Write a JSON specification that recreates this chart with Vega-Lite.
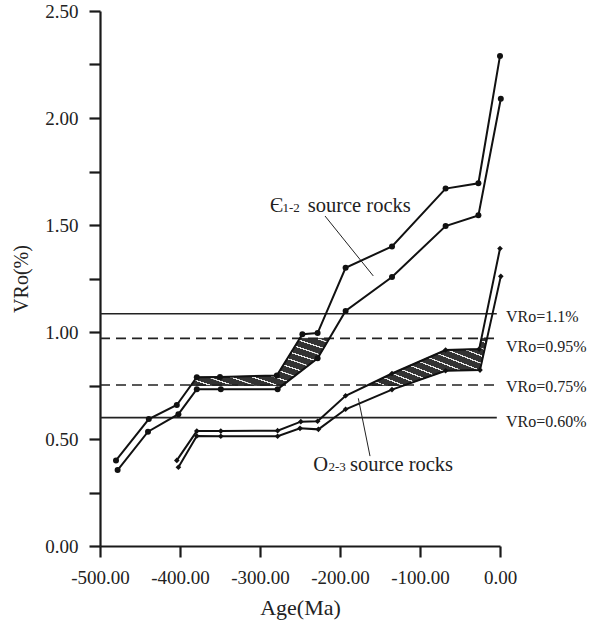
{
  "$schema": "https://vega.github.io/schema/vega-lite/v6.json",
  "width": 400,
  "height": 535,
  "autosize": {"type": "none"},
  "padding": {"left": 100, "top": 11, "right": 96, "bottom": 86},
  "background": "white",
  "config": {
    "view": {"stroke": null},
    "font": "Liberation Serif",
    "axis": {"grid": false, "domainColor": "#1a1a1a", "domainWidth": 2.2, "tickColor": "#1a1a1a", "tickWidth": 2.2, "tickSize": 11, "labelFont": "Liberation Serif", "labelFontSize": 19, "labelColor": "#222", "titleFont": "Liberation Serif", "titleFontWeight": "normal", "titleColor": "#222", "labelOverlap": false, "labelFlush": false}
  },
  "datasets": {
    "curves": [
      {"series": "C_up", "rock": "C", "age": -480, "vro": 0.40},
      {"series": "C_up", "rock": "C", "age": -439, "vro": 0.593},
      {"series": "C_up", "rock": "C", "age": -404, "vro": 0.659},
      {"series": "C_up", "rock": "C", "age": -379, "vro": 0.789},
      {"series": "C_up", "rock": "C", "age": -350, "vro": 0.790},
      {"series": "C_up", "rock": "C", "age": -279, "vro": 0.797},
      {"series": "C_up", "rock": "C", "age": -247, "vro": 0.99},
      {"series": "C_up", "rock": "C", "age": -228, "vro": 0.995},
      {"series": "C_up", "rock": "C", "age": -193, "vro": 1.30},
      {"series": "C_up", "rock": "C", "age": -135, "vro": 1.40},
      {"series": "C_up", "rock": "C", "age": -68, "vro": 1.67},
      {"series": "C_up", "rock": "C", "age": -27, "vro": 1.695},
      {"series": "C_up", "rock": "C", "age": 0, "vro": 2.29},
      {"series": "C_lo", "rock": "C", "age": -478, "vro": 0.355},
      {"series": "C_lo", "rock": "C", "age": -440, "vro": 0.534},
      {"series": "C_lo", "rock": "C", "age": -402, "vro": 0.616},
      {"series": "C_lo", "rock": "C", "age": -379, "vro": 0.733},
      {"series": "C_lo", "rock": "C", "age": -349, "vro": 0.733},
      {"series": "C_lo", "rock": "C", "age": -278, "vro": 0.733},
      {"series": "C_lo", "rock": "C", "age": -228, "vro": 0.877},
      {"series": "C_lo", "rock": "C", "age": -193, "vro": 1.098},
      {"series": "C_lo", "rock": "C", "age": -135, "vro": 1.257},
      {"series": "C_lo", "rock": "C", "age": -68, "vro": 1.495},
      {"series": "C_lo", "rock": "C", "age": -27, "vro": 1.545},
      {"series": "C_lo", "rock": "C", "age": 1, "vro": 2.09},
      {"series": "O_up", "rock": "O", "age": -404, "vro": 0.40},
      {"series": "O_up", "rock": "O", "age": -379, "vro": 0.537},
      {"series": "O_up", "rock": "O", "age": -349, "vro": 0.537},
      {"series": "O_up", "rock": "O", "age": -278, "vro": 0.539},
      {"series": "O_up", "rock": "O", "age": -249, "vro": 0.581},
      {"series": "O_up", "rock": "O", "age": -228, "vro": 0.583},
      {"series": "O_up", "rock": "O", "age": -193, "vro": 0.702},
      {"series": "O_up", "rock": "O", "age": -135, "vro": 0.806},
      {"series": "O_up", "rock": "O", "age": -68, "vro": 0.916},
      {"series": "O_up", "rock": "O", "age": -26, "vro": 0.92},
      {"series": "O_up", "rock": "O", "age": 0, "vro": 1.39},
      {"series": "O_lo", "rock": "O", "age": -402, "vro": 0.368},
      {"series": "O_lo", "rock": "O", "age": -379, "vro": 0.514},
      {"series": "O_lo", "rock": "O", "age": -349, "vro": 0.513},
      {"series": "O_lo", "rock": "O", "age": -278, "vro": 0.513},
      {"series": "O_lo", "rock": "O", "age": -250, "vro": 0.55},
      {"series": "O_lo", "rock": "O", "age": -227, "vro": 0.545},
      {"series": "O_lo", "rock": "O", "age": -193, "vro": 0.639},
      {"series": "O_lo", "rock": "O", "age": -135, "vro": 0.731},
      {"series": "O_lo", "rock": "O", "age": -68, "vro": 0.819},
      {"series": "O_lo", "rock": "O", "age": -25, "vro": 0.822},
      {"series": "O_lo", "rock": "O", "age": 1, "vro": 1.26}
    ],
    "bands": [
      {"band": "C", "age": -386.5, "top": 0.75, "bottom": 0.75},
      {"band": "C", "age": -379, "top": 0.789, "bottom": 0.75},
      {"band": "C", "age": -350, "top": 0.790, "bottom": 0.75},
      {"band": "C", "age": -279, "top": 0.797, "bottom": 0.75},
      {"band": "C", "age": -272, "top": 0.839, "bottom": 0.75},
      {"band": "C", "age": -250.3, "top": 0.97, "bottom": 0.813},
      {"band": "C", "age": -228, "top": 0.97, "bottom": 0.877},
      {"band": "C", "age": -213, "top": 0.97, "bottom": 0.97},
      {"band": "O", "age": -166, "top": 0.75, "bottom": 0.75},
      {"band": "O", "age": -135, "top": 0.806, "bottom": 0.75},
      {"band": "O", "age": -120, "top": 0.831, "bottom": 0.75},
      {"band": "O", "age": -68, "top": 0.916, "bottom": 0.819},
      {"band": "O", "age": -26, "top": 0.92, "bottom": 0.822},
      {"band": "O", "age": -23.2, "top": 0.97, "bottom": 0.854},
      {"band": "O", "age": -16.6, "top": 0.97, "bottom": 0.97}
    ],
    "refs": [
      {"vro": 1.085, "style": "solid", "label": "VRo=1.1%", "labelVro": 1.069, "start": -500, "end": -4, "labelAge": 7.5},
      {"vro": 0.97, "style": "dashed", "label": "VRo=0.95%", "labelVro": 0.931, "start": -500, "end": -4, "labelAge": 7.5},
      {"vro": 0.752, "style": "dashed", "label": "VRo=0.75%", "labelVro": 0.744, "start": -500, "end": -4, "labelAge": 7.5},
      {"vro": 0.60, "style": "solid", "label": "VRo=0.60%", "labelVro": 0.581, "start": -500, "end": -4, "labelAge": 7.5}
    ],
    "notes": [
      {"text": "Є", "age": -287.5, "vro": 1.561, "size": 20},
      {"text": "1-2", "age": -272, "vro": 1.561, "size": 13},
      {"text": "source rocks", "age": -240.4, "vro": 1.561, "size": 20.5},
      {"text": "O", "age": -233.4, "vro": 0.352, "size": 20.5},
      {"text": "2-3", "age": -214.5, "vro": 0.352, "size": 13},
      {"text": "source rocks", "age": -187.5, "vro": 0.352, "size": 20.5}
    ],
    "leaders": [
      {"a1": -218.75, "v1": 1.542, "a2": -158.4, "v2": 1.262},
      {"a1": -177.1, "v1": 0.690, "a2": -162.5, "v2": 0.42}
    ]
  },
  "layer": [
    {
      "data": {"name": "bands"},
      "mark": {"type": "area", "stroke": "#222", "strokeWidth": 0.8, "clip": false,
        "fill": {"gradient": "linear", "x1": 0, "y1": 1, "x2": 1, "y2": 0, "stops": [
          {"offset": 0, "color": "#333"}, {"offset": 0.065, "color": "#333"}, {"offset": 0.066, "color": "#e8e8e8"}, {"offset": 0.079, "color": "#e8e8e8"},
          {"offset": 0.08, "color": "#333"}, {"offset": 0.145, "color": "#333"}, {"offset": 0.146, "color": "#e8e8e8"}, {"offset": 0.159, "color": "#e8e8e8"},
          {"offset": 0.16, "color": "#333"}, {"offset": 0.225, "color": "#333"}, {"offset": 0.226, "color": "#e8e8e8"}, {"offset": 0.239, "color": "#e8e8e8"},
          {"offset": 0.24, "color": "#333"}, {"offset": 0.305, "color": "#333"}, {"offset": 0.306, "color": "#e8e8e8"}, {"offset": 0.319, "color": "#e8e8e8"},
          {"offset": 0.32, "color": "#333"}, {"offset": 0.385, "color": "#333"}, {"offset": 0.386, "color": "#e8e8e8"}, {"offset": 0.399, "color": "#e8e8e8"},
          {"offset": 0.40, "color": "#333"}, {"offset": 0.465, "color": "#333"}, {"offset": 0.466, "color": "#e8e8e8"}, {"offset": 0.479, "color": "#e8e8e8"},
          {"offset": 0.48, "color": "#333"}, {"offset": 0.545, "color": "#333"}, {"offset": 0.546, "color": "#e8e8e8"}, {"offset": 0.559, "color": "#e8e8e8"},
          {"offset": 0.56, "color": "#333"}, {"offset": 0.625, "color": "#333"}, {"offset": 0.626, "color": "#e8e8e8"}, {"offset": 0.639, "color": "#e8e8e8"},
          {"offset": 0.64, "color": "#333"}, {"offset": 0.705, "color": "#333"}, {"offset": 0.706, "color": "#e8e8e8"}, {"offset": 0.719, "color": "#e8e8e8"},
          {"offset": 0.72, "color": "#333"}, {"offset": 0.785, "color": "#333"}, {"offset": 0.786, "color": "#e8e8e8"}, {"offset": 0.799, "color": "#e8e8e8"},
          {"offset": 0.80, "color": "#333"}, {"offset": 0.865, "color": "#333"}, {"offset": 0.866, "color": "#e8e8e8"}, {"offset": 0.879, "color": "#e8e8e8"},
          {"offset": 0.88, "color": "#333"}, {"offset": 0.945, "color": "#333"}, {"offset": 0.946, "color": "#e8e8e8"}, {"offset": 0.959, "color": "#e8e8e8"},
          {"offset": 0.96, "color": "#333"}, {"offset": 1, "color": "#333"}
        ]}},
      "encoding": {
        "x": {"field": "age", "type": "quantitative", "scale": {"domain": [-500, 0], "nice": false, "zero": false},
          "axis": {"values": [-500, -450, -400, -350, -300, -250, -200, -150, -100, -50, 0], "labelExpr": "datum.value % 100 === 0 ? (datum.value < 0 ? '-' : '') + format(abs(datum.value), '.2f') : ''", "title": "Age(Ma)", "titleFontSize": 22, "titlePadding": 10, "labelPadding": 11}},
        "y": {"field": "top", "type": "quantitative", "scale": {"domain": [0, 2.5], "nice": false, "zero": true},
          "axis": {"values": [0, 0.25, 0.5, 0.75, 1, 1.25, 1.5, 1.75, 2, 2.25, 2.5], "labelExpr": "abs(datum.value * 2 - round(datum.value * 2)) < 0.001 ? format(datum.value, '.2f') : ''", "title": "VRo(%)", "titleFontSize": 20, "titlePadding": 13, "labelPadding": 11}},
        "y2": {"field": "bottom"},
        "detail": {"field": "band"}
      }
    },
    {
      "data": {"name": "refs"},
      "mark": {"type": "rule", "color": "#222", "strokeWidth": 1.6},
      "encoding": {
        "x": {"field": "start", "type": "quantitative"},
        "x2": {"field": "end"},
        "y": {"field": "vro", "type": "quantitative"},
        "strokeDash": {"field": "style", "type": "nominal", "scale": {"domain": ["solid", "dashed"], "range": [[1, 0], [10, 6]]}, "legend": null}
      }
    },
    {
      "data": {"name": "refs"},
      "mark": {"type": "text", "align": "left", "baseline": "middle", "fontSize": 16, "color": "#222", "clip": false},
      "encoding": {
        "x": {"field": "labelAge", "type": "quantitative"},
        "y": {"field": "labelVro", "type": "quantitative"},
        "text": {"field": "label"}
      }
    },
    {
      "data": {"name": "curves"},
      "mark": {"type": "line", "color": "#111", "strokeWidth": 2, "clip": false},
      "encoding": {
        "x": {"field": "age", "type": "quantitative"},
        "y": {"field": "vro", "type": "quantitative"},
        "detail": {"field": "series"}
      }
    },
    {
      "data": {"name": "curves"},
      "mark": {"type": "point", "filled": true, "color": "#111", "opacity": 1, "clip": false},
      "encoding": {
        "x": {"field": "age", "type": "quantitative"},
        "y": {"field": "vro", "type": "quantitative"},
        "shape": {"field": "rock", "type": "nominal", "scale": {"domain": ["C", "O"], "range": ["circle", "diamond"]}, "legend": null},
        "size": {"field": "rock", "type": "nominal", "scale": {"domain": ["C", "O"], "range": [36, 32]}, "legend": null}
      }
    },
    {
      "data": {"name": "leaders"},
      "mark": {"type": "rule", "color": "#222", "strokeWidth": 1},
      "encoding": {
        "x": {"field": "a1", "type": "quantitative"},
        "y": {"field": "v1", "type": "quantitative"},
        "x2": {"field": "a2"},
        "y2": {"field": "v2"}
      }
    },
    {
      "data": {"name": "notes"},
      "mark": {"type": "text", "align": "left", "baseline": "alphabetic", "color": "#222", "font": "Liberation Serif"},
      "encoding": {
        "x": {"field": "age", "type": "quantitative"},
        "y": {"field": "vro", "type": "quantitative"},
        "text": {"field": "text"},
        "size": {"field": "size", "type": "quantitative", "scale": null}
      }
    }
  ]
}
